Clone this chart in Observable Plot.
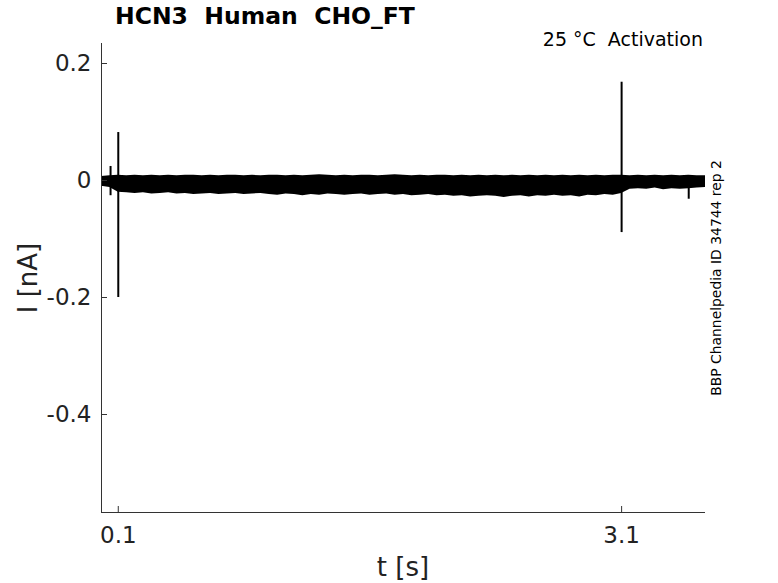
<!DOCTYPE html>
<html>
<head>
<meta charset="utf-8">
<script src="https://cdn.jsdelivr.net/npm/d3@7"></script>
<script src="https://cdn.jsdelivr.net/npm/@observablehq/plot@0.6"></script>
<style>
  html, body { margin: 0; padding: 0; background: #fff; }
  #wrap { position: relative; width: 778px; height: 583px; font-family: "DejaVu Sans", sans-serif; color: #000; }
  #wrap svg { position: absolute; left: 0; top: 0; }
  .lbl { position: absolute; white-space: nowrap; line-height: 1; }
</style>
</head>
<body>
<div id="wrap">
  <div class="lbl" id="title" style="left:115px; top:5px; font-size:23.5px; font-weight:bold;">HCN3&nbsp;&nbsp;Human&nbsp;&nbsp;CHO_FT</div>
  <div class="lbl" id="sub" style="right:75px; top:30px; font-size:19px;">25 °C&nbsp;&nbsp;Activation</div>
  <div class="lbl" id="ylab" style="left:28px; top:278px; font-size:26px; color:#222; transform: translate(-50%,-50%) rotate(-90deg);">I [nA]</div>
  <div class="lbl" id="xlab" style="left:403px; top:554px; font-size:26px; color:#222; transform: translateX(-50%);">t [s]</div>
  <div class="lbl" id="side" style="left:717px; top:278px; font-size:13.9px; transform: translate(-50%,-50%) rotate(-90deg);">BBP Channelpedia ID 34744 rep 2</div>
</div>
<script>
// ---- data ----
const times = [0,0.05,0.1,0.15,0.2,0.25,0.3,0.35,0.4,0.45,0.5,0.55,0.6,0.65,0.7,0.75,0.8,0.85,0.9,0.95,
  1.0,1.05,1.1,1.15,1.2,1.25,1.3,1.35,1.4,1.45,1.5,1.55,1.6,1.65,1.7,1.75,1.8,1.85,1.9,1.95,
  2.0,2.05,2.1,2.15,2.2,2.25,2.3,2.35,2.4,2.45,2.5,2.55,2.6,2.65,2.7,2.75,2.8,2.85,2.9,2.95,
  3.0,3.05,3.1,3.15,3.2,3.25,3.3,3.35,3.4,3.45,3.5,3.55,3.6];
const upper = [0.007,0.008,0.009,0.008,0.009,0.008,0.009,0.008,0.009,0.008,0.009,0.009,0.008,0.009,0.008,0.009,0.009,0.008,0.009,0.008,
  0.009,0.009,0.008,0.009,0.008,0.009,0.010,0.009,0.008,0.009,0.008,0.009,0.009,0.008,0.009,0.010,0.009,0.008,0.009,0.008,
  0.009,0.009,0.008,0.009,0.008,0.009,0.008,0.009,0.008,0.009,0.008,0.009,0.008,0.009,0.008,0.009,0.008,0.009,0.008,0.009,
  0.008,0.009,0.009,0.008,0.009,0.008,0.009,0.008,0.009,0.008,0.009,0.008,0.008];
const lower = [-0.010,-0.012,-0.020,-0.021,-0.022,-0.021,-0.023,-0.022,-0.021,-0.023,-0.022,-0.024,-0.023,-0.022,-0.024,-0.023,-0.022,-0.024,-0.023,-0.022,
  -0.024,-0.025,-0.023,-0.024,-0.026,-0.024,-0.025,-0.023,-0.024,-0.025,-0.024,-0.023,-0.025,-0.024,-0.023,-0.025,-0.024,-0.026,-0.025,-0.024,
  -0.026,-0.025,-0.027,-0.026,-0.028,-0.027,-0.026,-0.027,-0.029,-0.027,-0.026,-0.028,-0.026,-0.027,-0.025,-0.027,-0.026,-0.028,-0.025,-0.026,
  -0.024,-0.025,-0.022,-0.015,-0.014,-0.015,-0.013,-0.016,-0.014,-0.015,-0.014,-0.013,-0.012];
// transient spikes
const spikeT = [0.054, 0.1, 3.1, 3.5];
const spikeTop = [0.024, 0.082, 0.168, -0.004];
const spikeBottom = [-0.026, -0.200, -0.089, -0.032];
// axes
const xTicks = [0.1, 3.1];
const yTicks = [0.2, 0, -0.2, -0.4];
const xDomain = [0, 3.6];
const yDomain = [-0.5675, 0.2342];

const band = times.map((t, i) => ({t, lo: lower[i], hi: upper[i]}));
const spikes = spikeT.map((t, i) => ({t, top: spikeTop[i], bottom: spikeBottom[i]}));

const chart = Plot.plot({
  width: 778,
  height: 583,
  marginLeft: 101,
  marginRight: 73,
  marginTop: 43,
  marginBottom: 71,
  style: {fontFamily: "DejaVu Sans, sans-serif", background: "transparent"},
  x: {domain: xDomain},
  y: {domain: yDomain},
  marks: [
    Plot.areaY(band, {x: "t", y1: "lo", y2: "hi", fill: "black", curve: "linear"}),
    Plot.ruleX(spikes, {x: "t", y1: "bottom", y2: "top", stroke: "black", strokeWidth: 2}),
    Plot.ruleX([xDomain[0]], {stroke: "#333", strokeWidth: 1}),
    Plot.ruleY([yDomain[0]], {stroke: "#333", strokeWidth: 1}),
    Plot.axisX({ticks: xTicks, tickFormat: d => String(d), tickSize: -6, tickPadding: 20, fontSize: 23, label: null, stroke: "#333", color: "#222"}),
    Plot.axisY({ticks: yTicks, tickFormat: d => String(d), tickSize: -6, tickPadding: 16, fontSize: 23, label: null, stroke: "#333", color: "#222"})
  ]
});
document.getElementById("wrap").prepend(chart);
</script>
</body>
</html>
